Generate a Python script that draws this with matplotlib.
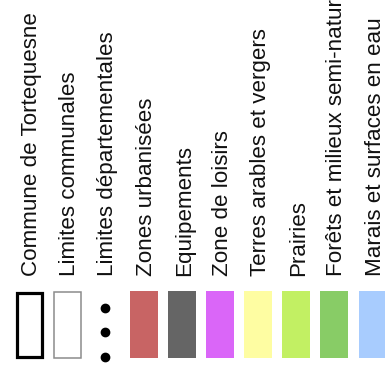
import matplotlib
matplotlib.use("Agg")
import matplotlib.pyplot as plt

# legend entries, left to right
labels = [
    "Commune de Tortequesne",
    "Limites communales",
    "Limites départementales",
    "Zones urbanisées",
    "Equipements",
    "Zone de loisirs",
    "Terres arables et vergers",
    "Prairies",
    "Forêts et milieux semi-naturels",
    "Marais et surfaces en eau",
]
kinds = ["box", "line", "dots", "fill", "fill", "fill", "fill", "fill", "fill", "fill"]
colors = ["#000000", "#8c8c8c", "#000000", "#c86464", "#656565", "#da66f8",
          "#fefda2", "#c2f063", "#88cc66", "#a8ccfe"]
dot_rows = [308, 332, 357]

plt.rcParams["font.family"] = ["Liberation Sans", "DejaVu Sans"]

fig = plt.figure(figsize=(3.85, 3.68), dpi=100)
ax = fig.add_axes([0, 0, 1, 1])
step = 38.17
ax.set_xlim(-29 / step, (385 - 29) / step)
ax.set_ylim(368, 0)
ax.axis("off")

top, h = 291, 67
for i, (lab, kind, col) in enumerate(zip(labels, kinds, colors)):
    if kind == "fill":
        ax.bar(i, h, bottom=top, width=28 / step, color=col, linewidth=0)
    elif kind == "box":
        ax.bar(i, h - 3, bottom=top + 1.5, width=25 / step, facecolor="white",
               edgecolor=col, linewidth=2.3)
    elif kind == "line":
        ax.bar(i, h - 1, bottom=top + 0.5, width=27 / step, facecolor="white",
               edgecolor=col, linewidth=1.1)
    else:
        ax.scatter([i] * len(dot_rows), dot_rows, s=36, color=col, zorder=3)
    # labels read bottom to top, starting just above the swatches
    ax.text(i + 8 / step, 276, lab, rotation=90, rotation_mode="anchor",
            ha="left", va="baseline", fontsize=16.1, color="#111111")

fig.savefig("out.png", dpi=100)
